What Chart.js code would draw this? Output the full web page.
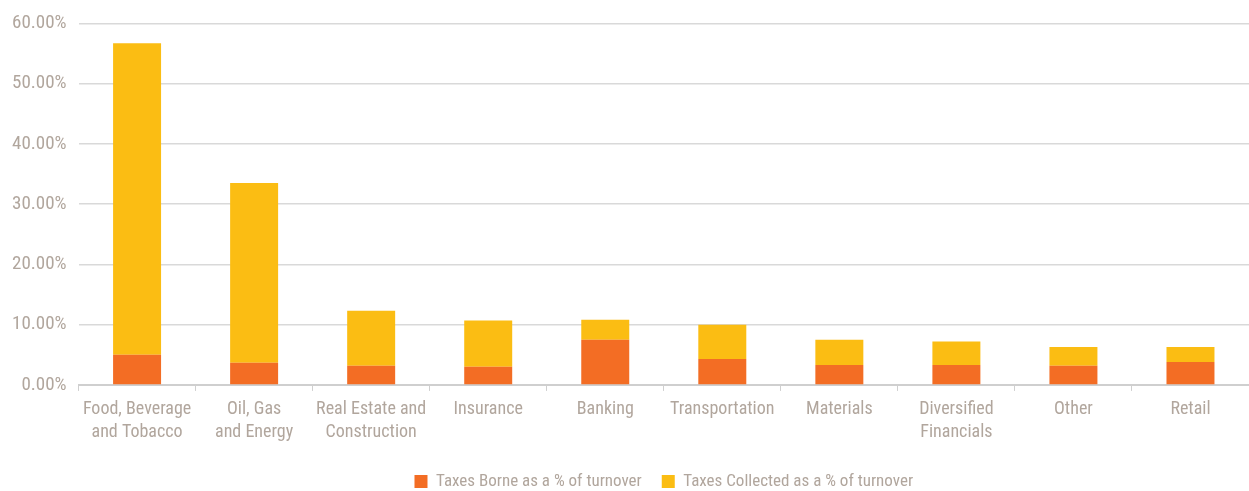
<!DOCTYPE html>
<html>
<head>
<meta charset="utf-8">
<script src="https://cdn.jsdelivr.net/npm/chart.js@4"></script>
<style>
  html, body { margin: 0; padding: 0; background: #fff; }
  #wrap { width: 1249px; height: 491px; position: relative; }
</style>
</head>
<body>
<div id="wrap"><canvas id="taxChart"></canvas></div>
<script>
// Data
const sectors = [
    ["Food, Beverage", "and Tobacco"],
    ["Oil, Gas", "and Energy"],
    ["Real Estate and", "Construction"],
    "Insurance",
    "Banking",
    "Transportation",
    "Materials",
    ["Diversified", "Financials"],
    "Other",
    "Retail"
];
const taxesBorne = [5.0, 3.7, 3.2, 3.0, 7.5, 4.3, 3.3, 3.3, 3.2, 3.8];
const taxesCollected = [51.7, 29.8, 9.1, 7.7, 3.3, 5.7, 4.2, 3.9, 3.1, 2.5];

const textColor = '#b1a69d';
const gridColor = '#d9d9d9';
const fontFamily = '"Roboto Condensed", Roboto, "Liberation Sans", sans-serif';

new Chart(document.getElementById('taxChart'), {
    type: 'bar',
    data: {
        labels: sectors,
        datasets: [
            {
                label: 'Taxes Borne as a % of turnover',
                data: taxesBorne,
                backgroundColor: '#f36d24',
                categoryPercentage: 1,
                barPercentage: 0.41
            },
            {
                label: 'Taxes Collected as a % of turnover',
                data: taxesCollected,
                backgroundColor: '#fbbd13',
                categoryPercentage: 1,
                barPercentage: 0.41
            }
        ]
    },
    options: {
        responsive: true,
        maintainAspectRatio: false,
        animation: false,
        // negative bottom padding pushes the legend closer to the edge
        layout: { padding: { top: 14, right: 0, left: 0, bottom: -9 } },
        plugins: {
            legend: {
                position: 'bottom',
                fullSize: false,
                labels: {
                    color: textColor,
                    font: { family: fontFamily, size: 17 },
                    boxWidth: 13,
                    boxHeight: 13,
                    padding: 20
                }
            },
            tooltip: { enabled: false }
        },
        scales: {
            x: {
                stacked: true,
                border: { display: true, color: '#cfcfcf', width: 2 },
                grid: { display: true, drawOnChartArea: false, drawTicks: true, tickLength: 6, color: '#cfcfcf', offset: true },
                ticks: { color: textColor, font: { family: fontFamily, size: 18, lineHeight: 1.28 }, maxRotation: 0, autoSkip: false, padding: 7 },
                afterFit: s => { s.height += 2; }
            },
            y: {
                stacked: true,
                min: 0,
                max: 60,
                border: { display: false },
                grid: { color: gridColor, lineWidth: 1.5, drawTicks: false },
                ticks: {
                    stepSize: 10,
                    color: textColor,
                    font: { family: fontFamily, size: 19 },
                    padding: 12,
                    callback: v => v.toFixed(2) + '%'
                }
            }
        }
    }
});
</script>
</body>
</html>
